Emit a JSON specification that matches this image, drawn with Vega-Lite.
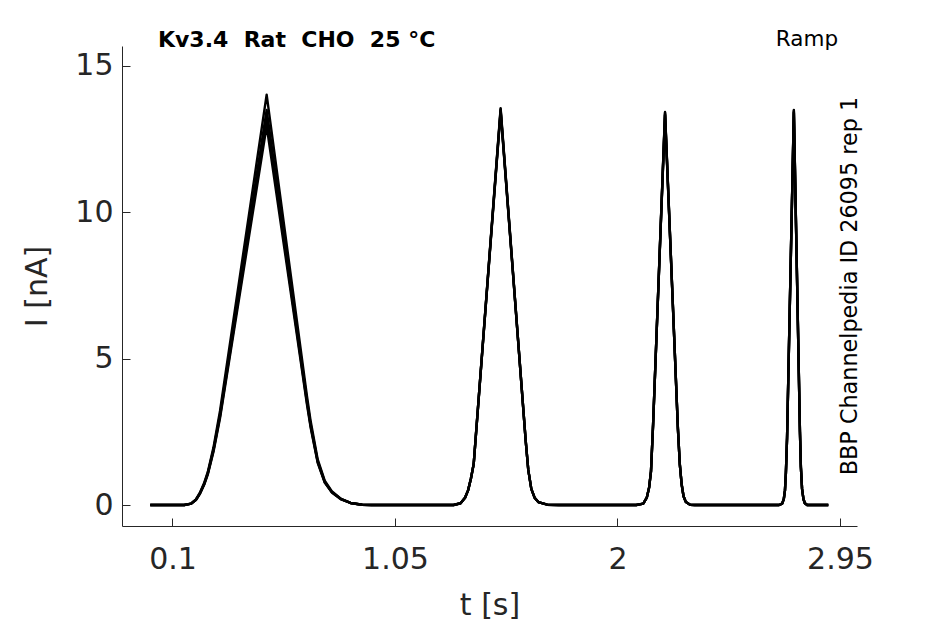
{
  "$schema": "https://vega.github.io/schema/vega-lite/v6.json",
  "width": 735,
  "height": 480,
  "autosize": {"type": "none"},
  "padding": {"left": 122, "top": 46, "right": 88, "bottom": 98},
  "background": "white",
  "config": {
    "font": "DejaVu Sans",
    "view": {"stroke": null},
    "axis": {
      "grid": false,
      "labelFont": "DejaVu Sans",
      "titleFont": "DejaVu Sans",
      "labelFontSize": 30,
      "titleFontSize": 30,
      "titleFontWeight": "normal",
      "labelColor": "#262626",
      "titleColor": "#262626",
      "domainColor": "#262626",
      "tickColor": "#262626",
      "domainWidth": 1,
      "tickWidth": 1
    }
  },
  "layer": [
    {
      "data": {"values": [
        {"s":"A","t":0.005,"I":0},{"s":"A","t":0.15,"I":0},{"s":"A","t":0.18,"I":0.05},{"s":"A","t":0.2,"I":0.19},{"s":"A","t":0.217,"I":0.42},{"s":"A","t":0.235,"I":0.75},{"s":"A","t":0.251,"I":1.14},{"s":"A","t":0.275,"I":1.97},{"s":"A","t":0.303,"I":3.22},{"s":"A","t":0.502,"I":14.02},{"s":"A","t":0.674,"I":3.73},{"s":"A","t":0.69,"I":2.86},{"s":"A","t":0.72,"I":1.56},{"s":"A","t":0.75,"I":0.83},{"s":"A","t":0.78,"I":0.47},{"s":"A","t":0.82,"I":0.21},{"s":"A","t":0.86,"I":0.07},{"s":"A","t":0.91,"I":0.01},{"s":"A","t":0.95,"I":0},
        {"s":"A","t":1.3,"I":0},{"s":"A","t":1.33,"I":0.06},{"s":"A","t":1.349,"I":0.25},{"s":"A","t":1.362,"I":0.5},{"s":"A","t":1.374,"I":0.9},{"s":"A","t":1.386,"I":1.4},{"s":"A","t":1.501,"I":13.56},{"s":"A","t":1.608,"I":2.2},{"s":"A","t":1.619,"I":1.2},{"s":"A","t":1.632,"I":0.55},{"s":"A","t":1.646,"I":0.25},{"s":"A","t":1.662,"I":0.1},{"s":"A","t":1.7,"I":0.01},{"s":"A","t":1.75,"I":0},
        {"s":"A","t":2.08,"I":0},{"s":"A","t":2.11,"I":0.05},{"s":"A","t":2.125,"I":0.25},{"s":"A","t":2.135,"I":0.6},{"s":"A","t":2.143,"I":1.15},{"s":"A","t":2.152,"I":2.75},{"s":"A","t":2.203,"I":13.43},{"s":"A","t":2.258,"I":2.6},{"s":"A","t":2.266,"I":1.4},{"s":"A","t":2.274,"I":0.7},{"s":"A","t":2.282,"I":0.3},{"s":"A","t":2.292,"I":0.1},{"s":"A","t":2.31,"I":0.01},{"s":"A","t":2.33,"I":0},
        {"s":"A","t":2.69,"I":0},{"s":"A","t":2.703,"I":0.05},{"s":"A","t":2.71,"I":0.2},{"s":"A","t":2.715,"I":0.5},{"s":"A","t":2.719,"I":1.1},{"s":"A","t":2.724,"I":2.3},{"s":"A","t":2.753,"I":13.5},{"s":"A","t":2.779,"I":2.5},{"s":"A","t":2.783,"I":1.3},{"s":"A","t":2.788,"I":0.55},{"s":"A","t":2.794,"I":0.2},{"s":"A","t":2.8,"I":0.06},{"s":"A","t":2.81,"I":0},{"s":"A","t":2.9,"I":0},

        {"s":"B","t":0.005,"I":0},{"s":"B","t":0.15,"I":0},{"s":"B","t":0.18,"I":0.05},{"s":"B","t":0.2,"I":0.18},{"s":"B","t":0.217,"I":0.4},{"s":"B","t":0.235,"I":0.72},{"s":"B","t":0.251,"I":1.1},{"s":"B","t":0.275,"I":1.9},{"s":"B","t":0.303,"I":3.1},{"s":"B","t":0.502,"I":13.5},{"s":"B","t":0.674,"I":3.59},{"s":"B","t":0.69,"I":2.75},{"s":"B","t":0.72,"I":1.5},{"s":"B","t":0.75,"I":0.8},{"s":"B","t":0.78,"I":0.45},{"s":"B","t":0.82,"I":0.2},{"s":"B","t":0.86,"I":0.07},{"s":"B","t":0.91,"I":0.01},{"s":"B","t":0.95,"I":0},
        {"s":"B","t":1.3,"I":0},{"s":"B","t":1.33,"I":0.06},{"s":"B","t":1.349,"I":0.25},{"s":"B","t":1.362,"I":0.5},{"s":"B","t":1.374,"I":0.9},{"s":"B","t":1.386,"I":1.4},{"s":"B","t":1.501,"I":13.52},{"s":"B","t":1.608,"I":2.2},{"s":"B","t":1.619,"I":1.2},{"s":"B","t":1.632,"I":0.55},{"s":"B","t":1.646,"I":0.25},{"s":"B","t":1.662,"I":0.1},{"s":"B","t":1.7,"I":0.01},{"s":"B","t":1.75,"I":0},
        {"s":"B","t":2.08,"I":0},{"s":"B","t":2.11,"I":0.05},{"s":"B","t":2.125,"I":0.25},{"s":"B","t":2.135,"I":0.6},{"s":"B","t":2.143,"I":1.15},{"s":"B","t":2.152,"I":2.75},{"s":"B","t":2.203,"I":13.4},{"s":"B","t":2.258,"I":2.6},{"s":"B","t":2.266,"I":1.4},{"s":"B","t":2.274,"I":0.7},{"s":"B","t":2.282,"I":0.3},{"s":"B","t":2.292,"I":0.1},{"s":"B","t":2.31,"I":0.01},{"s":"B","t":2.33,"I":0},
        {"s":"B","t":2.69,"I":0},{"s":"B","t":2.703,"I":0.05},{"s":"B","t":2.71,"I":0.2},{"s":"B","t":2.715,"I":0.5},{"s":"B","t":2.719,"I":1.1},{"s":"B","t":2.724,"I":2.3},{"s":"B","t":2.753,"I":13.47},{"s":"B","t":2.779,"I":2.5},{"s":"B","t":2.783,"I":1.3},{"s":"B","t":2.788,"I":0.55},{"s":"B","t":2.794,"I":0.2},{"s":"B","t":2.8,"I":0.06},{"s":"B","t":2.81,"I":0},{"s":"B","t":2.9,"I":0},

        {"s":"C","t":0.005,"I":0},{"s":"C","t":0.15,"I":0},{"s":"C","t":0.18,"I":0.05},{"s":"C","t":0.2,"I":0.18},{"s":"C","t":0.217,"I":0.39},{"s":"C","t":0.235,"I":0.7},{"s":"C","t":0.251,"I":1.08},{"s":"C","t":0.275,"I":1.86},{"s":"C","t":0.303,"I":3.03},{"s":"C","t":0.502,"I":13.2},{"s":"C","t":0.674,"I":3.51},{"s":"C","t":0.69,"I":2.69},{"s":"C","t":0.72,"I":1.47},{"s":"C","t":0.75,"I":0.78},{"s":"C","t":0.78,"I":0.44},{"s":"C","t":0.82,"I":0.2},{"s":"C","t":0.86,"I":0.07},{"s":"C","t":0.91,"I":0.01},{"s":"C","t":0.95,"I":0},
        {"s":"C","t":1.3,"I":0},{"s":"C","t":1.33,"I":0.06},{"s":"C","t":1.349,"I":0.25},{"s":"C","t":1.362,"I":0.5},{"s":"C","t":1.374,"I":0.9},{"s":"C","t":1.386,"I":1.4},{"s":"C","t":1.501,"I":13.48},{"s":"C","t":1.608,"I":2.2},{"s":"C","t":1.619,"I":1.2},{"s":"C","t":1.632,"I":0.55},{"s":"C","t":1.646,"I":0.25},{"s":"C","t":1.662,"I":0.1},{"s":"C","t":1.7,"I":0.01},{"s":"C","t":1.75,"I":0},
        {"s":"C","t":2.08,"I":0},{"s":"C","t":2.11,"I":0.05},{"s":"C","t":2.125,"I":0.25},{"s":"C","t":2.135,"I":0.6},{"s":"C","t":2.143,"I":1.15},{"s":"C","t":2.152,"I":2.75},{"s":"C","t":2.203,"I":13.36},{"s":"C","t":2.258,"I":2.6},{"s":"C","t":2.266,"I":1.4},{"s":"C","t":2.274,"I":0.7},{"s":"C","t":2.282,"I":0.3},{"s":"C","t":2.292,"I":0.1},{"s":"C","t":2.31,"I":0.01},{"s":"C","t":2.33,"I":0},
        {"s":"C","t":2.69,"I":0},{"s":"C","t":2.703,"I":0.05},{"s":"C","t":2.71,"I":0.2},{"s":"C","t":2.715,"I":0.5},{"s":"C","t":2.719,"I":1.1},{"s":"C","t":2.724,"I":2.3},{"s":"C","t":2.753,"I":13.43},{"s":"C","t":2.779,"I":2.5},{"s":"C","t":2.783,"I":1.3},{"s":"C","t":2.788,"I":0.55},{"s":"C","t":2.794,"I":0.2},{"s":"C","t":2.8,"I":0.06},{"s":"C","t":2.81,"I":0},{"s":"C","t":2.9,"I":0},

        {"s":"D","t":0.005,"I":0},{"s":"D","t":0.15,"I":0},{"s":"D","t":0.18,"I":0.05},{"s":"D","t":0.2,"I":0.17},{"s":"D","t":0.217,"I":0.38},{"s":"D","t":0.235,"I":0.69},{"s":"D","t":0.251,"I":1.05},{"s":"D","t":0.275,"I":1.82},{"s":"D","t":0.303,"I":2.97},{"s":"D","t":0.502,"I":12.95},{"s":"D","t":0.674,"I":3.44},{"s":"D","t":0.69,"I":2.64},{"s":"D","t":0.72,"I":1.44},{"s":"D","t":0.75,"I":0.77},{"s":"D","t":0.78,"I":0.43},{"s":"D","t":0.82,"I":0.19},{"s":"D","t":0.86,"I":0.07},{"s":"D","t":0.91,"I":0.01},{"s":"D","t":0.95,"I":0},
        {"s":"D","t":1.3,"I":0},{"s":"D","t":1.33,"I":0.06},{"s":"D","t":1.349,"I":0.25},{"s":"D","t":1.362,"I":0.5},{"s":"D","t":1.374,"I":0.9},{"s":"D","t":1.386,"I":1.4},{"s":"D","t":1.501,"I":13.44},{"s":"D","t":1.608,"I":2.2},{"s":"D","t":1.619,"I":1.2},{"s":"D","t":1.632,"I":0.55},{"s":"D","t":1.646,"I":0.25},{"s":"D","t":1.662,"I":0.1},{"s":"D","t":1.7,"I":0.01},{"s":"D","t":1.75,"I":0},
        {"s":"D","t":2.08,"I":0},{"s":"D","t":2.11,"I":0.05},{"s":"D","t":2.125,"I":0.25},{"s":"D","t":2.135,"I":0.6},{"s":"D","t":2.143,"I":1.15},{"s":"D","t":2.152,"I":2.75},{"s":"D","t":2.203,"I":13.32},{"s":"D","t":2.258,"I":2.6},{"s":"D","t":2.266,"I":1.4},{"s":"D","t":2.274,"I":0.7},{"s":"D","t":2.282,"I":0.3},{"s":"D","t":2.292,"I":0.1},{"s":"D","t":2.31,"I":0.01},{"s":"D","t":2.33,"I":0},
        {"s":"D","t":2.69,"I":0},{"s":"D","t":2.703,"I":0.05},{"s":"D","t":2.71,"I":0.2},{"s":"D","t":2.715,"I":0.5},{"s":"D","t":2.719,"I":1.1},{"s":"D","t":2.724,"I":2.3},{"s":"D","t":2.753,"I":13.4},{"s":"D","t":2.779,"I":2.5},{"s":"D","t":2.783,"I":1.3},{"s":"D","t":2.788,"I":0.55},{"s":"D","t":2.794,"I":0.2},{"s":"D","t":2.8,"I":0.06},{"s":"D","t":2.81,"I":0},{"s":"D","t":2.9,"I":0}
      ]},
      "mark": {"type": "line", "color": "#000000", "strokeWidth": 2.4, "strokeJoin": "round"},
      "encoding": {
        "x": {
          "field": "t", "type": "quantitative",
          "scale": {"domain": [-0.1156, 3.0226], "nice": false, "zero": false},
          "axis": {"title": "t [s]", "values": [0.1, 1.05, 2, 2.95], "format": ".3~g", "tickSize": -8, "labelPadding": 26, "titlePadding": 16, "labelFlush": false}
        },
        "y": {
          "field": "I", "type": "quantitative",
          "scale": {"domain": [-0.717, 15.683], "nice": false, "zero": false},
          "axis": {"title": "I [nA]", "values": [0, 5, 10, 15], "tickSize": -8, "labelPadding": 17, "titlePadding": 22}
        },
        "detail": {"field": "s"}
      }
    },
    {
      "data": {"values": [{"label": "Kv3.4\u00a0\u00a0Rat\u00a0\u00a0CHO\u00a0\u00a025\u00a0°C", "t": 0.038, "I": 15.89}]},
      "mark": {"type": "text", "font": "DejaVu Sans", "fontWeight": "bold", "fontSize": 22, "align": "left", "baseline": "middle", "color": "#000000"},
      "encoding": {
        "x": {"field": "t", "type": "quantitative"},
        "y": {"field": "I", "type": "quantitative"},
        "text": {"field": "label"}
      }
    },
    {
      "data": {"values": [{"label": "Ramp", "t": 2.9416, "I": 15.89}]},
      "mark": {"type": "text", "font": "DejaVu Sans", "fontSize": 21.5, "align": "right", "baseline": "middle", "color": "#000000"},
      "encoding": {
        "x": {"field": "t", "type": "quantitative"},
        "y": {"field": "I", "type": "quantitative"},
        "text": {"field": "label"}
      }
    },
    {
      "data": {"values": [{"label": "BBP Channelpedia ID 26095 rep 1", "t": 2.993, "I": 7.48}]},
      "mark": {"type": "text", "font": "DejaVu Sans", "fontSize": 22.3, "align": "center", "baseline": "middle", "angle": 270, "color": "#000000"},
      "encoding": {
        "x": {"field": "t", "type": "quantitative"},
        "y": {"field": "I", "type": "quantitative"},
        "text": {"field": "label"}
      }
    }
  ]
}
